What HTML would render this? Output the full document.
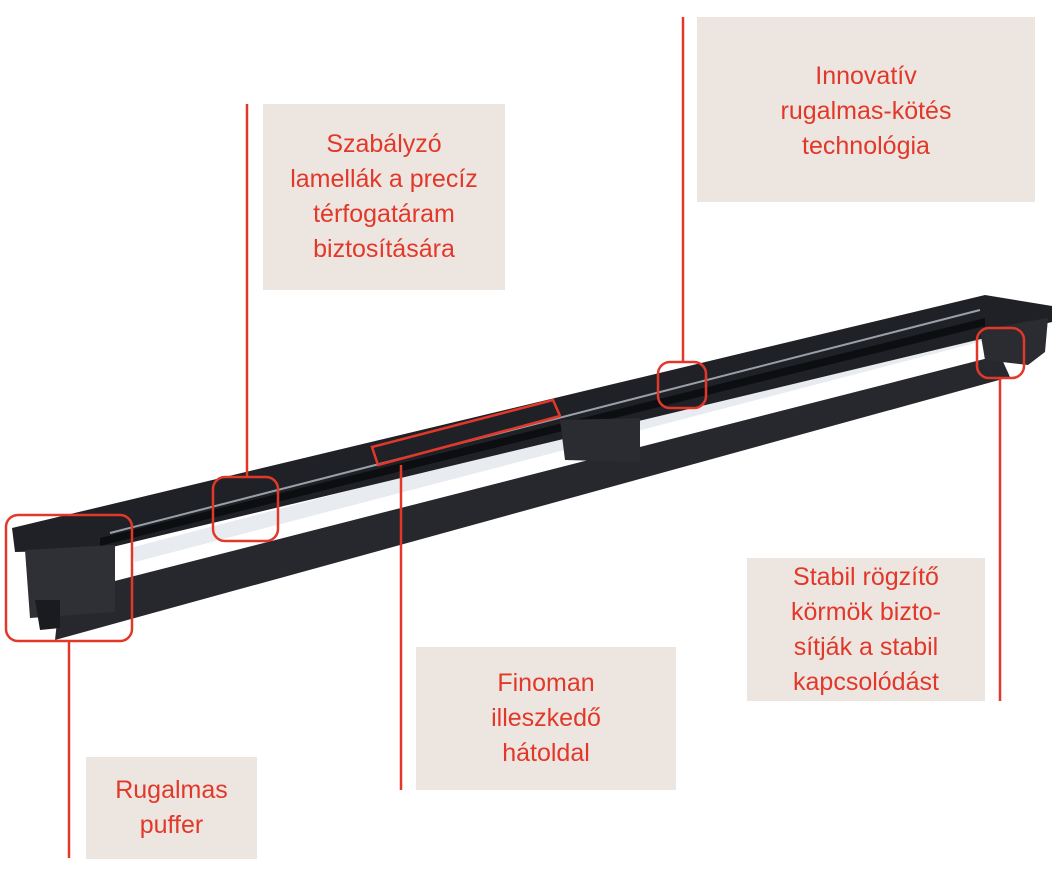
<!DOCTYPE html><html><head><style>
body{margin:0;width:1063px;height:886px;background:#fff;position:relative;overflow:hidden;font-family:"Liberation Sans",sans-serif}
.b{position:absolute;background:#ede6e0;color:#e2382a;font-size:25px;line-height:35px;text-align:center;display:flex;align-items:center;justify-content:center}
svg{position:absolute;left:0;top:0}
</style></head><body>
<div class="b" style="left:263px;top:104px;width:242px;height:186px">Szabályzó<br>lamellák a precíz<br>térfogatáram<br>biztosítására</div>
<div class="b" style="left:697px;top:17px;width:338px;height:185px;align-items:flex-start;padding-top:0"><div style="margin-top:42px">Innovatív<br>rugalmas-kötés<br>technológia</div></div>
<div class="b" style="left:416px;top:647px;width:260px;height:143px">Finoman<br>illeszkedő<br>hátoldal</div>
<div class="b" style="left:747px;top:558px;width:238px;height:143px">Stabil rögzítő<br>körmök bizto-<br>sítják a stabil<br>kapcsolódást</div>
<div class="b" style="left:86px;top:757px;width:171px;height:102px">Rugalmas<br>puffer</div>
<svg width="1063" height="886">
<polygon points="60,595 1000,355 1010,377 55,640" fill="#26282d"/>
<polygon points="130,548 1000,320 1002,336 135,562" fill="#e8ecf0"/>
<polygon points="12,528 985,295 1052,306 1052,322 100,550 15,552" fill="#1f2126"/>
<polygon points="100,538 985,318 985,326 100,546" fill="#0d0e11"/>
<line x1="110" y1="533" x2="980" y2="310" stroke="#9aa0a8" stroke-width="2"/>
<polygon points="25,550 115,545 115,612 30,618" fill="#2e3036"/>
<polygon points="35,600 60,600 60,628 40,630" fill="#1a1b1e"/>
<polygon points="560,420 640,418 640,462 565,460" fill="#2a2c31"/>
<polygon points="980,330 1048,318 1045,352 1028,365 985,360" fill="#2a2c31"/>
<g fill="none" stroke="#e2382a" stroke-width="2.5">
<line x1="247" y1="104" x2="247" y2="478"/>
<line x1="683" y1="17" x2="683" y2="362"/>
<line x1="401" y1="465" x2="401" y2="790"/>
<line x1="1000" y1="378" x2="1000" y2="701"/>
<line x1="69" y1="641" x2="69" y2="858"/>
<rect x="6" y="515" width="126" height="126" rx="12"/>
<rect x="213" y="477" width="65" height="64" rx="12"/>
<rect x="658" y="362" width="48" height="46" rx="12"/>
<rect x="977" y="328" width="47" height="50" rx="12"/>
<polygon points="372,447 553,400 560,416 378,465"/>
</g></svg>
</body></html>
